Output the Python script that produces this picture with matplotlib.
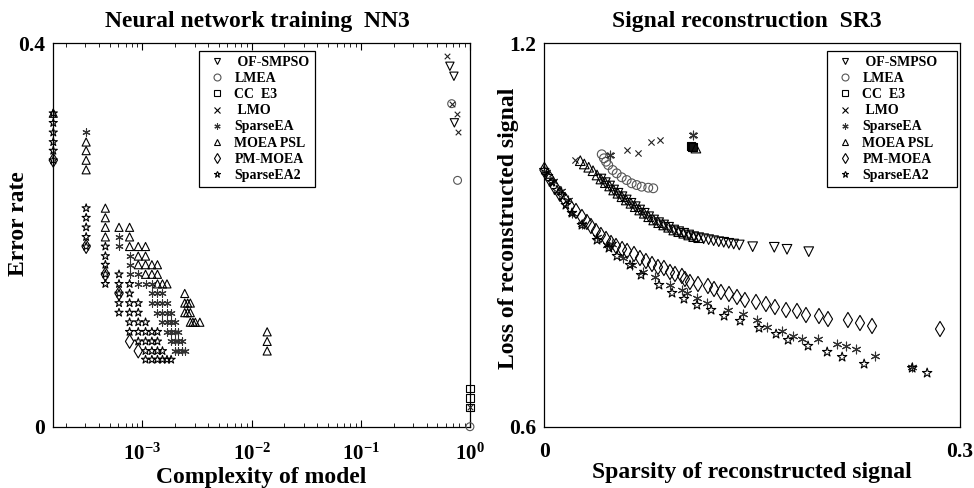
import numpy as np
import matplotlib
matplotlib.use('Agg')
import matplotlib.pyplot as plt
from matplotlib.lines import Line2D
from matplotlib.ticker import FixedLocator, LogLocator, FuncFormatter, NullFormatter

plt.rcParams['font.family'] = 'Liberation Serif'
plt.rcParams['font.weight'] = 'bold'
plt.rcParams['mathtext.fontset'] = 'custom'
plt.rcParams['mathtext.rm'] = 'Liberation Serif:bold'
plt.rcParams['mathtext.bf'] = 'Liberation Serif:bold'
plt.rcParams['mathtext.default'] = 'bf'

# ---------------- NN3: neural network training ----------------
# complexity = selected weights / total weights, error rate read per row
nn_total_weights = 6553
nn_err_levels = [0.327, 0.317, 0.307, 0.297, 0.288, 0.278, 0.268, 0.258, 0.248,
                 0.238, 0.228, 0.218, 0.208, 0.198, 0.188, 0.178, 0.169, 0.159,
                 0.149, 0.139, 0.129, 0.119, 0.109, 0.099, 0.089, 0.079, 0.070]

nn_sea2_k = [1, 1, 1, 1, 1, 1, 2, 2, 2, 2, 2, 3, 3, 3, 3, 4, 3, 4, 5, 4, 5,
             4, 5, 6, 4, 5, 6, 5, 6, 7, 5, 6, 7, 8, 9, 6, 7, 8, 9,
             7, 8, 9, 10, 7, 8, 9, 10, 11, 12]
nn_sea2_row = [0, 1, 2, 3, 4, 5, 10, 11, 12, 13, 14, 14, 15, 16, 17, 17, 18, 18, 18, 19, 19,
               20, 20, 20, 21, 21, 21, 22, 22, 22, 23, 23, 23, 23, 23, 24, 24, 24, 24,
               25, 25, 25, 25, 26, 26, 26, 26, 26, 26]

nn_sea_k = [2, 4, 4, 5, 5, 5, 6, 6, 7, 8, 8, 9, 10, 8, 9, 10, 11, 9, 10, 11, 12,
            10, 11, 12, 13, 11, 12, 13, 14, 12, 13, 14, 15, 13, 14, 15, 16]
nn_sea_row = [2, 13, 14, 15, 16, 17, 17, 18, 18, 18, 19, 19, 19, 20, 20, 20, 20, 21, 21, 21, 21,
              22, 22, 22, 22, 23, 23, 23, 23, 24, 24, 24, 24, 25, 25, 25, 25]

nn_psl_k = [1, 2, 2, 2, 2, 3, 3, 3, 3, 4, 5, 5, 5, 6, 7, 6, 7, 6, 7, 8, 9, 7, 8, 9,
            9, 10, 11, 16, 16, 17, 18, 16, 17, 18, 18, 19, 20, 22, 91, 91, 91]
nn_psl_row = [0, 3, 4, 5, 6, 10, 11, 12, 13, 12, 12, 13, 14, 14, 14, 15, 15, 16, 16, 16, 16, 17, 17, 17,
              18, 18, 18, 19, 20, 20, 20, 21, 21, 21, 22, 22, 22, 22, 23, 24, 25]

nn_pm_k = [1, 2, 3, 4, 5, 6]
nn_pm_row = [5, 14, 17, 19, 24, 25]

nn_ofs_x = [0.655, 0.713, 0.72]
nn_ofs_y = [0.376, 0.3656, 0.317]
nn_lmea_x = [0.68, 0.77, 1.0]
nn_lmea_y = [0.337, 0.257, 0.0]
nn_cc_x = [1.0, 1.0, 1.0]
nn_cc_y = [0.0396, 0.0299, 0.0201]
nn_lmo_x = [0.62, 0.68, 0.765, 0.77, 1.0]
nn_lmo_y = [0.3865, 0.337, 0.3267, 0.307, 0.0201]

# ---------------- SR3: signal reconstruction ----------------
sr_curve_x = [0.0260, 0.0289, 0.0321, 0.0352, 0.0381, 0.0409, 0.0441, 0.0472, 0.0501,
              0.0532, 0.0561, 0.0592, 0.0626, 0.0657, 0.0689, 0.0722, 0.0754, 0.0790,
              0.0826, 0.0862, 0.0898, 0.0935, 0.0971, 0.1007, 0.1043, 0.1079, 0.1115,
              0.1151, 0.1187, 0.1223, 0.1260, 0.1296, 0.1332, 0.1368, 0.1408]
sr_curve_y = [1.0163, 1.0111, 1.0060, 1.0006, 0.9939, 0.9876, 0.9819, 0.9767, 0.9704,
              0.9653, 0.9599, 0.9548, 0.9496, 0.9443, 0.9391, 0.9340, 0.9286, 0.9235,
              0.9193, 0.9157, 0.9121, 0.9078, 0.9052, 0.9027, 0.9000, 0.8974, 0.8958,
              0.8942, 0.8927, 0.8911, 0.8895, 0.8886, 0.8870, 0.8859, 0.8844]
sr_psl_x = sr_curve_x[:27] + [0.1095]
sr_psl_y = sr_curve_y[:27] + [1.036]
sr_ofs_x = sr_curve_x[5:] + [0.1505, 0.1661, 0.1753, 0.1910]
sr_ofs_y = sr_curve_y[5:] + [0.8817, 0.8808, 0.8776, 0.8739]

sr_lmea_x = [0.0415, 0.0431, 0.0446, 0.0462, 0.0494, 0.0523, 0.0559, 0.0595, 0.0631,
             0.0667, 0.0703, 0.0751, 0.0787]
sr_lmea_y = [1.0263, 1.0200, 1.0147, 1.0095, 1.0017, 0.9965, 0.9903, 0.9860, 0.9809,
             0.9782, 0.9756, 0.9740, 0.9731]
sr_cc_x = [0.1062, 0.1068, 0.1074]
sr_cc_y = [1.0385, 1.0378, 1.0372]
sr_lmo_x = [0.0224, 0.0472, 0.0597, 0.0675, 0.0773, 0.0838, 0.1072]
sr_lmo_y = [1.0174, 1.0252, 1.0330, 1.0288, 1.0460, 1.0487, 1.0565]

sr_pm_x = [0.0001, 0.0041, 0.0077, 0.0114, 0.0150, 0.0186, 0.0229, 0.0272, 0.0308, 0.0337,
           0.0373, 0.0409, 0.0446, 0.0482, 0.0518, 0.0562, 0.0598, 0.0648, 0.0691, 0.0734,
           0.0778, 0.0821, 0.0864, 0.0908, 0.0944, 0.0994, 0.1016, 0.1052, 0.1110, 0.1182,
           0.1226, 0.1276, 0.1334, 0.1392, 0.1449, 0.1529, 0.1601, 0.1666, 0.1746, 0.1825,
           0.1890, 0.1984, 0.2049, 0.2193, 0.2280, 0.2367, 0.2858]
sr_pm_y = [1.0017, 0.9877, 0.9751, 0.9642, 0.9548, 0.9454, 0.9376, 0.9282, 0.9204, 0.9141,
           0.9063, 0.9000, 0.8938, 0.8875, 0.8828, 0.8781, 0.8750, 0.8703, 0.8640, 0.8593,
           0.8546, 0.8499, 0.8484, 0.8421, 0.8390, 0.8359, 0.8312, 0.8265, 0.8233, 0.8202,
           0.8155, 0.8108, 0.8077, 0.8030, 0.7983, 0.7952, 0.7920, 0.7873, 0.7826, 0.7811,
           0.7748, 0.7732, 0.7685, 0.7670, 0.7623, 0.7576, 0.7529]

sr_sea2_x = [0.0000, 0.0027, 0.0056, 0.0092, 0.0128, 0.0156, 0.0200, 0.0272, 0.0381, 0.0467,
             0.0525, 0.0619, 0.0699, 0.0829, 0.0923, 0.1009, 0.1103, 0.1205, 0.1299, 0.1414,
             0.1551, 0.1674, 0.1761, 0.1905, 0.2043, 0.2151, 0.2310, 0.2657, 0.2765]
sr_sea2_y = [1.0017, 0.9923, 0.9829, 0.9704, 0.9610, 0.9469, 0.9344, 0.9156, 0.8921, 0.8796,
             0.8671, 0.8530, 0.8373, 0.8217, 0.8092, 0.7998, 0.7904, 0.7826, 0.7732, 0.7654,
             0.7544, 0.7450, 0.7356, 0.7263, 0.7169, 0.7090, 0.6981, 0.6918, 0.6840]

sr_sea_x = [0.0012, 0.0063, 0.0121, 0.0171, 0.0200, 0.0272, 0.0381, 0.0453, 0.0489, 0.0568,
            0.0633, 0.0713, 0.0800, 0.0908, 0.0994, 0.1030, 0.1103, 0.1175, 0.1327, 0.1436,
            0.1537, 0.1609, 0.1717, 0.1797, 0.1862, 0.1977, 0.2115, 0.2180, 0.2252, 0.2389,
            0.2657, 0.0472, 0.1072]
sr_sea_y = [0.9986, 0.9845, 0.9689, 0.9548, 0.9344, 0.9172, 0.8969, 0.8844, 0.8859, 0.8640,
            0.8530, 0.8421, 0.8343, 0.8217, 0.8139, 0.8092, 0.8014, 0.7936, 0.7826, 0.7764,
            0.7670, 0.7560, 0.7498, 0.7419, 0.7372, 0.7372, 0.7294, 0.7263, 0.7216, 0.7106,
            0.6934, 1.0252, 1.0565]

labels = [' OF-SMPSO', 'LMEA', 'CC  E3', ' LMO', 'SparseEA', 'MOEA PSL', 'PM-MOEA', 'SparseEA2']
asterisk = (6, 2, 0)
styles = {
    'ofs': dict(marker='v', facecolors='none', edgecolors='black'),
    'lmea': dict(marker='o', facecolors='none', edgecolors='#555555'),
    'cc': dict(marker='s', facecolors='none', edgecolors='black'),
    'lmo': dict(marker='x', c='#222222'),
    'sea': dict(marker=asterisk, c='#333333'),
    'psl': dict(marker='^', facecolors='none', edgecolors='black'),
    'pm': dict(marker='d', facecolors='none', edgecolors='black'),
    'sea2': dict(marker='*', facecolors='none', edgecolors='black'),
}
order = ['ofs', 'lmea', 'cc', 'lmo', 'sea', 'psl', 'pm', 'sea2']

fig = plt.figure(figsize=(9.74, 4.88), dpi=100)
ax1 = fig.add_axes([0.0547, 0.1256, 0.4278, 0.7857])
ax2 = fig.add_axes([0.5588, 0.1256, 0.4265, 0.7857])


def sc(ax, x, y, key, s, **kw):
    st = dict(styles[key])
    st.update(kw)
    ax.scatter(x, y, s=s, linewidths=0.8, clip_on=False, zorder=3, **st)


def to_err(rows):
    return [nn_err_levels[r] for r in rows]


def to_cx(ks):
    return [k / nn_total_weights for k in ks]


# left panel
sc(ax1, nn_ofs_x, nn_ofs_y, 'ofs', 36)
sc(ax1, nn_lmea_x, nn_lmea_y, 'lmea', 32)
sc(ax1, nn_cc_x, nn_cc_y, 'cc', 28)
sc(ax1, nn_lmo_x, nn_lmo_y, 'lmo', 16)
sc(ax1, to_cx(nn_sea_k), to_err(nn_sea_row), 'sea', 28)
sc(ax1, to_cx(nn_psl_k), to_err(nn_psl_row), 'psl', 34)
sc(ax1, to_cx(nn_pm_k), to_err(nn_pm_row), 'pm', 50)
sc(ax1, to_cx(nn_sea2_k), to_err(nn_sea2_row), 'sea2', 38)

ax1.set_xscale('log')
ax1.set_xlim(1 / nn_total_weights, 1)
ax1.set_ylim(0, 0.4)
ax1.xaxis.set_major_locator(FixedLocator([1e-3, 1e-2, 1e-1, 1]))
ax1.xaxis.set_minor_locator(LogLocator(base=10, subs=np.arange(2, 10)))
ax1.xaxis.set_minor_formatter(NullFormatter())
ax1.xaxis.set_major_formatter(FuncFormatter(lambda v, p: r'$10^{%d}$' % round(np.log10(v))))
ax1.set_yticks([0, 0.4])
ax1.set_yticklabels(['0', '0.4'])
ax1.tick_params(axis='x', which='both', direction='in', top=True, labelsize=15, pad=12)
ax1.tick_params(axis='x', which='major', length=5)
ax1.tick_params(axis='x', which='minor', length=3)
ax1.tick_params(axis='y', length=0, labelsize=15.5, pad=6)
ax1.set_xlabel('Complexity of model', fontsize=17, fontweight='bold')
ax1.set_ylabel('Error rate', fontsize=17, fontweight='bold')
ax1.xaxis.set_label_coords(0.5, -0.106)
ax1.yaxis.set_label_coords(-0.058, 0.53)
ax1.text(0.489, 1.0556, 'Neural network training  NN3', transform=ax1.transAxes,
         ha='center', va='center', fontsize=17, fontweight='bold')

# right panel
sc(ax2, sr_ofs_x, sr_ofs_y, 'ofs', 48)
sc(ax2, sr_lmea_x, sr_lmea_y, 'lmea', 40)
sc(ax2, sr_cc_x, sr_cc_y, 'cc', 34, facecolors='#111111')
sc(ax2, sr_lmo_x, sr_lmo_y, 'lmo', 20)
sc(ax2, sr_sea_x, sr_sea_y, 'sea', 40)
sc(ax2, sr_psl_x, sr_psl_y, 'psl', 48)
sc(ax2, sr_pm_x, sr_pm_y, 'pm', 60)
sc(ax2, sr_sea2_x, sr_sea2_y, 'sea2', 50)

ax2.set_xlim(0, 0.3)
ax2.set_ylim(0.6, 1.2)
ax2.set_xticks([0, 0.3])
ax2.set_xticklabels(['0', '0.3'])
ax2.set_yticks([0.6, 1.2])
ax2.set_yticklabels(['0.6', '1.2'])
ax2.tick_params(axis='both', length=0, labelsize=15.5)
ax2.tick_params(axis='x', pad=11)
ax2.tick_params(axis='y', pad=6)
ax2.set_xlabel('Sparsity of reconstructed signal', fontsize=17, fontweight='bold')
ax2.set_ylabel('Loss of reconstructed signal', fontsize=17, fontweight='bold')
ax2.xaxis.set_label_coords(0.5, -0.092)
ax2.yaxis.set_label_coords(-0.062, 0.518)
ax2.text(0.488, 1.0556, 'Signal reconstruction  SR3', transform=ax2.transAxes,
         ha='center', va='center', fontsize=17, fontweight='bold')

# legends
mk = {'ofs': 'v', 'lmea': 'o', 'cc': 's', 'lmo': 'x', 'sea': asterisk, 'psl': '^', 'pm': 'd', 'sea2': '*'}
cols = {'lmea': '#555555', 'sea': '#333333'}
handles = []
for key, lab in zip(order, labels):
    c = cols.get(key, 'black')
    if key in ('lmo', 'sea'):
        h = Line2D([], [], ls='none', marker=mk[key], color=c, markersize=4.5, mew=0.8, label=lab)
    else:
        h = Line2D([], [], ls='none', marker=mk[key], mfc='none', mec=c, markersize=5, mew=0.8, label=lab)
    handles.append(h)

leg_boxes = ((ax1, (0.3497, 0.6340, 0.2783, 0.3467)), (ax2, (0.6806, 0.6340, 0.3129, 0.3467)))
for ax, box in leg_boxes:
    leg = ax.legend(handles=handles, loc='upper left', bbox_to_anchor=box, mode='expand',
                    borderaxespad=0,
                    prop={'family': 'Liberation Serif', 'weight': 'bold', 'size': 10},
                    fancybox=False, framealpha=1, edgecolor='black', labelspacing=0.22,
                    handletextpad=0.35, handlelength=1.8, borderpad=0.4)
    leg.get_frame().set_linewidth(0.9)

for ax in (ax1, ax2):
    for sp in ax.spines.values():
        sp.set_linewidth(0.9)

fig.savefig('out.png', dpi=100)
